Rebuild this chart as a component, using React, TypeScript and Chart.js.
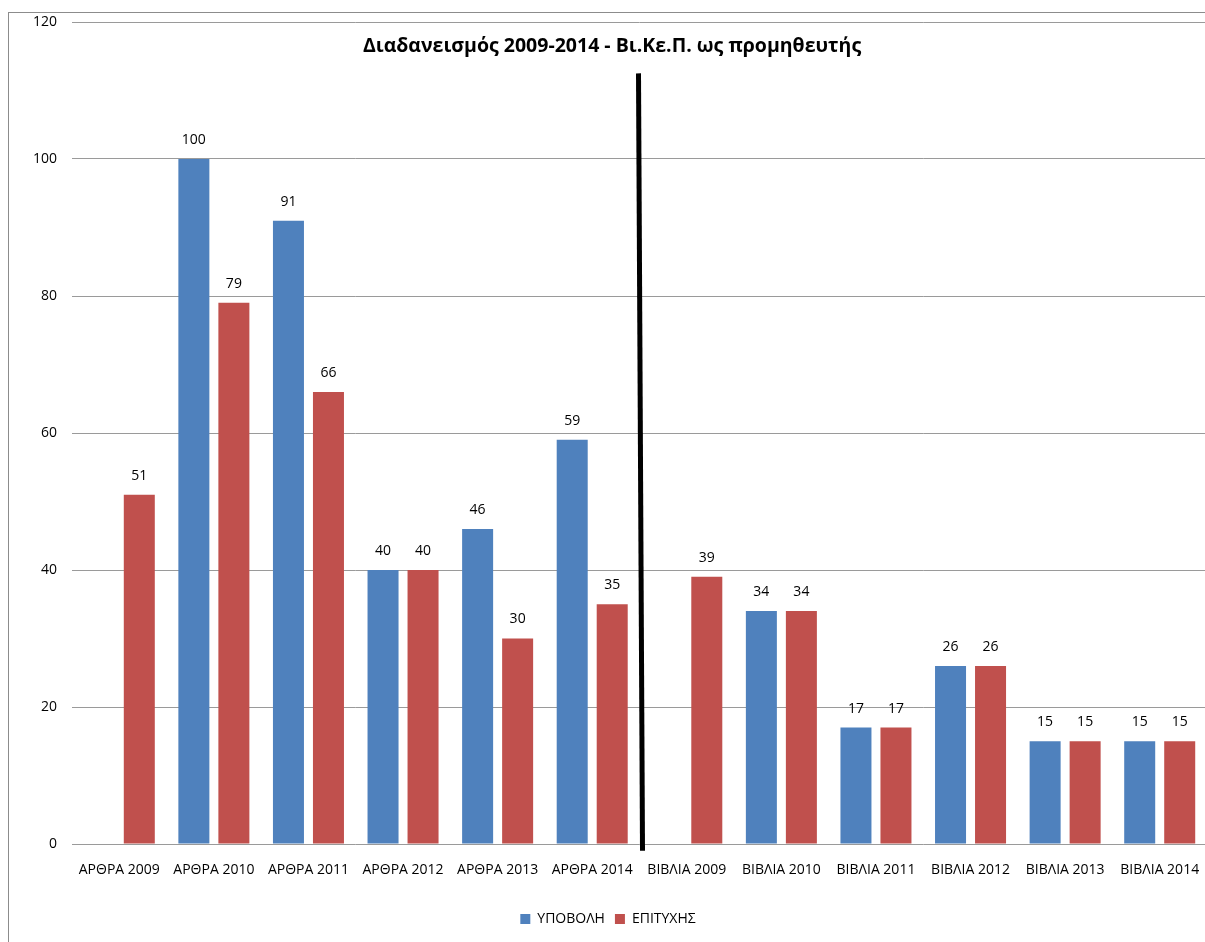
import React, { useEffect, useRef } from "react";
import { Chart, registerables } from "chart.js";

Chart.register(...registerables);

const categories = [
  "ΑΡΘΡΑ 2009", "ΑΡΘΡΑ 2010", "ΑΡΘΡΑ 2011", "ΑΡΘΡΑ 2012", "ΑΡΘΡΑ 2013", "ΑΡΘΡΑ 2014",
  "ΒΙΒΛΙΑ 2009", "ΒΙΒΛΙΑ 2010", "ΒΙΒΛΙΑ 2011", "ΒΙΒΛΙΑ 2012", "ΒΙΒΛΙΑ 2013", "ΒΙΒΛΙΑ 2014",
];
const submissionValues: (number | null)[] = [null, 100, 91, 40, 46, 59, null, 34, 17, 26, 15, 15];
const successValues: (number | null)[] = [51, 79, 66, 40, 30, 35, 39, 34, 17, 26, 15, 15];
const seriesNames = ["ΥΠΟΒΟΛΗ", "ΕΠΙΤΥΧΗΣ"];
const titleText = "Διαδανεισμός 2009-2014 - Βι.Κε.Π. ως προμηθευτής";
const yMin = 0;
const yMax = 120;
const yStep = 20;
const dividerAfterIndex = 5;
const dividerTopValue = 112.5;
const dividerBottomValue = -1;

const FONT = "'Open Sans', 'Noto Sans', sans-serif";

const labelsPlugin = {
  id: "valueLabels",
  afterDatasetsDraw(chart: any) {
    const ctx = chart.ctx;
    ctx.save();
    ctx.font = `14px ${FONT}`;
    ctx.fillStyle = "#000";
    ctx.textAlign = "center";
    ctx.textBaseline = "middle";
    chart.data.datasets.forEach((ds: any, di: number) => {
      const meta = chart.getDatasetMeta(di);
      meta.data.forEach((bar: any, i: number) => {
        const v = ds.data[i];
        if (v === null || v === undefined) return;
        ctx.fillText(String(v), bar.x, bar.y - 19);
      });
    });
    ctx.restore();
  },
};

const decorPlugin = {
  id: "decor",
  afterDraw(chart: any) {
    const ctx = chart.ctx;
    const xs = chart.scales.x;
    const ys = chart.scales.y;
    const mid = (xs.getPixelForValue(dividerAfterIndex) + xs.getPixelForValue(dividerAfterIndex + 1)) / 2;
    ctx.save();
    ctx.strokeStyle = "#000";
    ctx.lineWidth = 5;
    ctx.beginPath();
    ctx.moveTo(mid - 1, ys.getPixelForValue(dividerTopValue));
    ctx.lineTo(mid + 3, ys.getPixelForValue(dividerBottomValue));
    ctx.stroke();
    ctx.font = `bold 19.5px ${FONT}`;
    ctx.fillStyle = "#000";
    ctx.textAlign = "center";
    ctx.textBaseline = "middle";
    ctx.fillText(titleText, chart.width / 2, 33);
    ctx.restore();
  },
};

export default function App() {
  const ref = useRef<HTMLCanvasElement | null>(null);
  useEffect(() => {
    if (!ref.current) return;
    const chart = new Chart(ref.current, {
      type: "bar",
      data: {
        labels: categories,
        datasets: [
          { label: seriesNames[0], data: submissionValues, backgroundColor: "#4F81BD", categoryPercentage: 0.846, barPercentage: 0.775 },
          { label: seriesNames[1], data: successValues, backgroundColor: "#C0504D", categoryPercentage: 0.846, barPercentage: 0.775 },
        ],
      },
      options: {
        responsive: false,
        animation: false,
        layout: { padding: { top: 9, right: 8, left: 0, bottom: 6 } },
        plugins: {
          title: { display: false },
          tooltip: { enabled: false },
          legend: {
            position: "bottom",
            labels: {
              boxWidth: 10,
              boxHeight: 10,
              padding: 10,
              color: "#000",
              font: { family: FONT, size: 14 },
            },
          },
        },
        scales: {
          x: {
            grid: { display: false, drawTicks: false },
            border: { display: false },
            ticks: { color: "#000", font: { family: FONT, size: 14 }, padding: 18, maxRotation: 0, autoSkip: false },
            afterFit: (s: any) => { s.height = 58; s.paddingLeft = 0; s.paddingRight = 0; },
          },
          y: {
            min: yMin,
            max: yMax,
            grid: { color: "#9a9a9a", drawTicks: false, lineWidth: 1 },
            border: { display: false },
            ticks: { stepSize: yStep, color: "#000", font: { family: FONT, size: 14 }, padding: 15 },
            afterFit: (s: any) => { s.width = 63; s.paddingTop = 0; s.paddingBottom = 0; },
          },
        },
      },
      plugins: [labelsPlugin, decorPlugin],
    });
    return () => chart.destroy();
  }, []);
  return (
    <div
      style={{
        position: "absolute",
        left: 8,
        top: 12,
        width: 1197,
        height: 930,
        borderLeft: "1px solid #8c8c8c",
        borderTop: "1px solid #8c8c8c",
        overflow: "hidden",
        boxSizing: "border-box",
        background: "#fff",
      }}
    >
      <canvas ref={ref} width={1206} height={929} style={{ display: "block" }} />
    </div>
  );
}
